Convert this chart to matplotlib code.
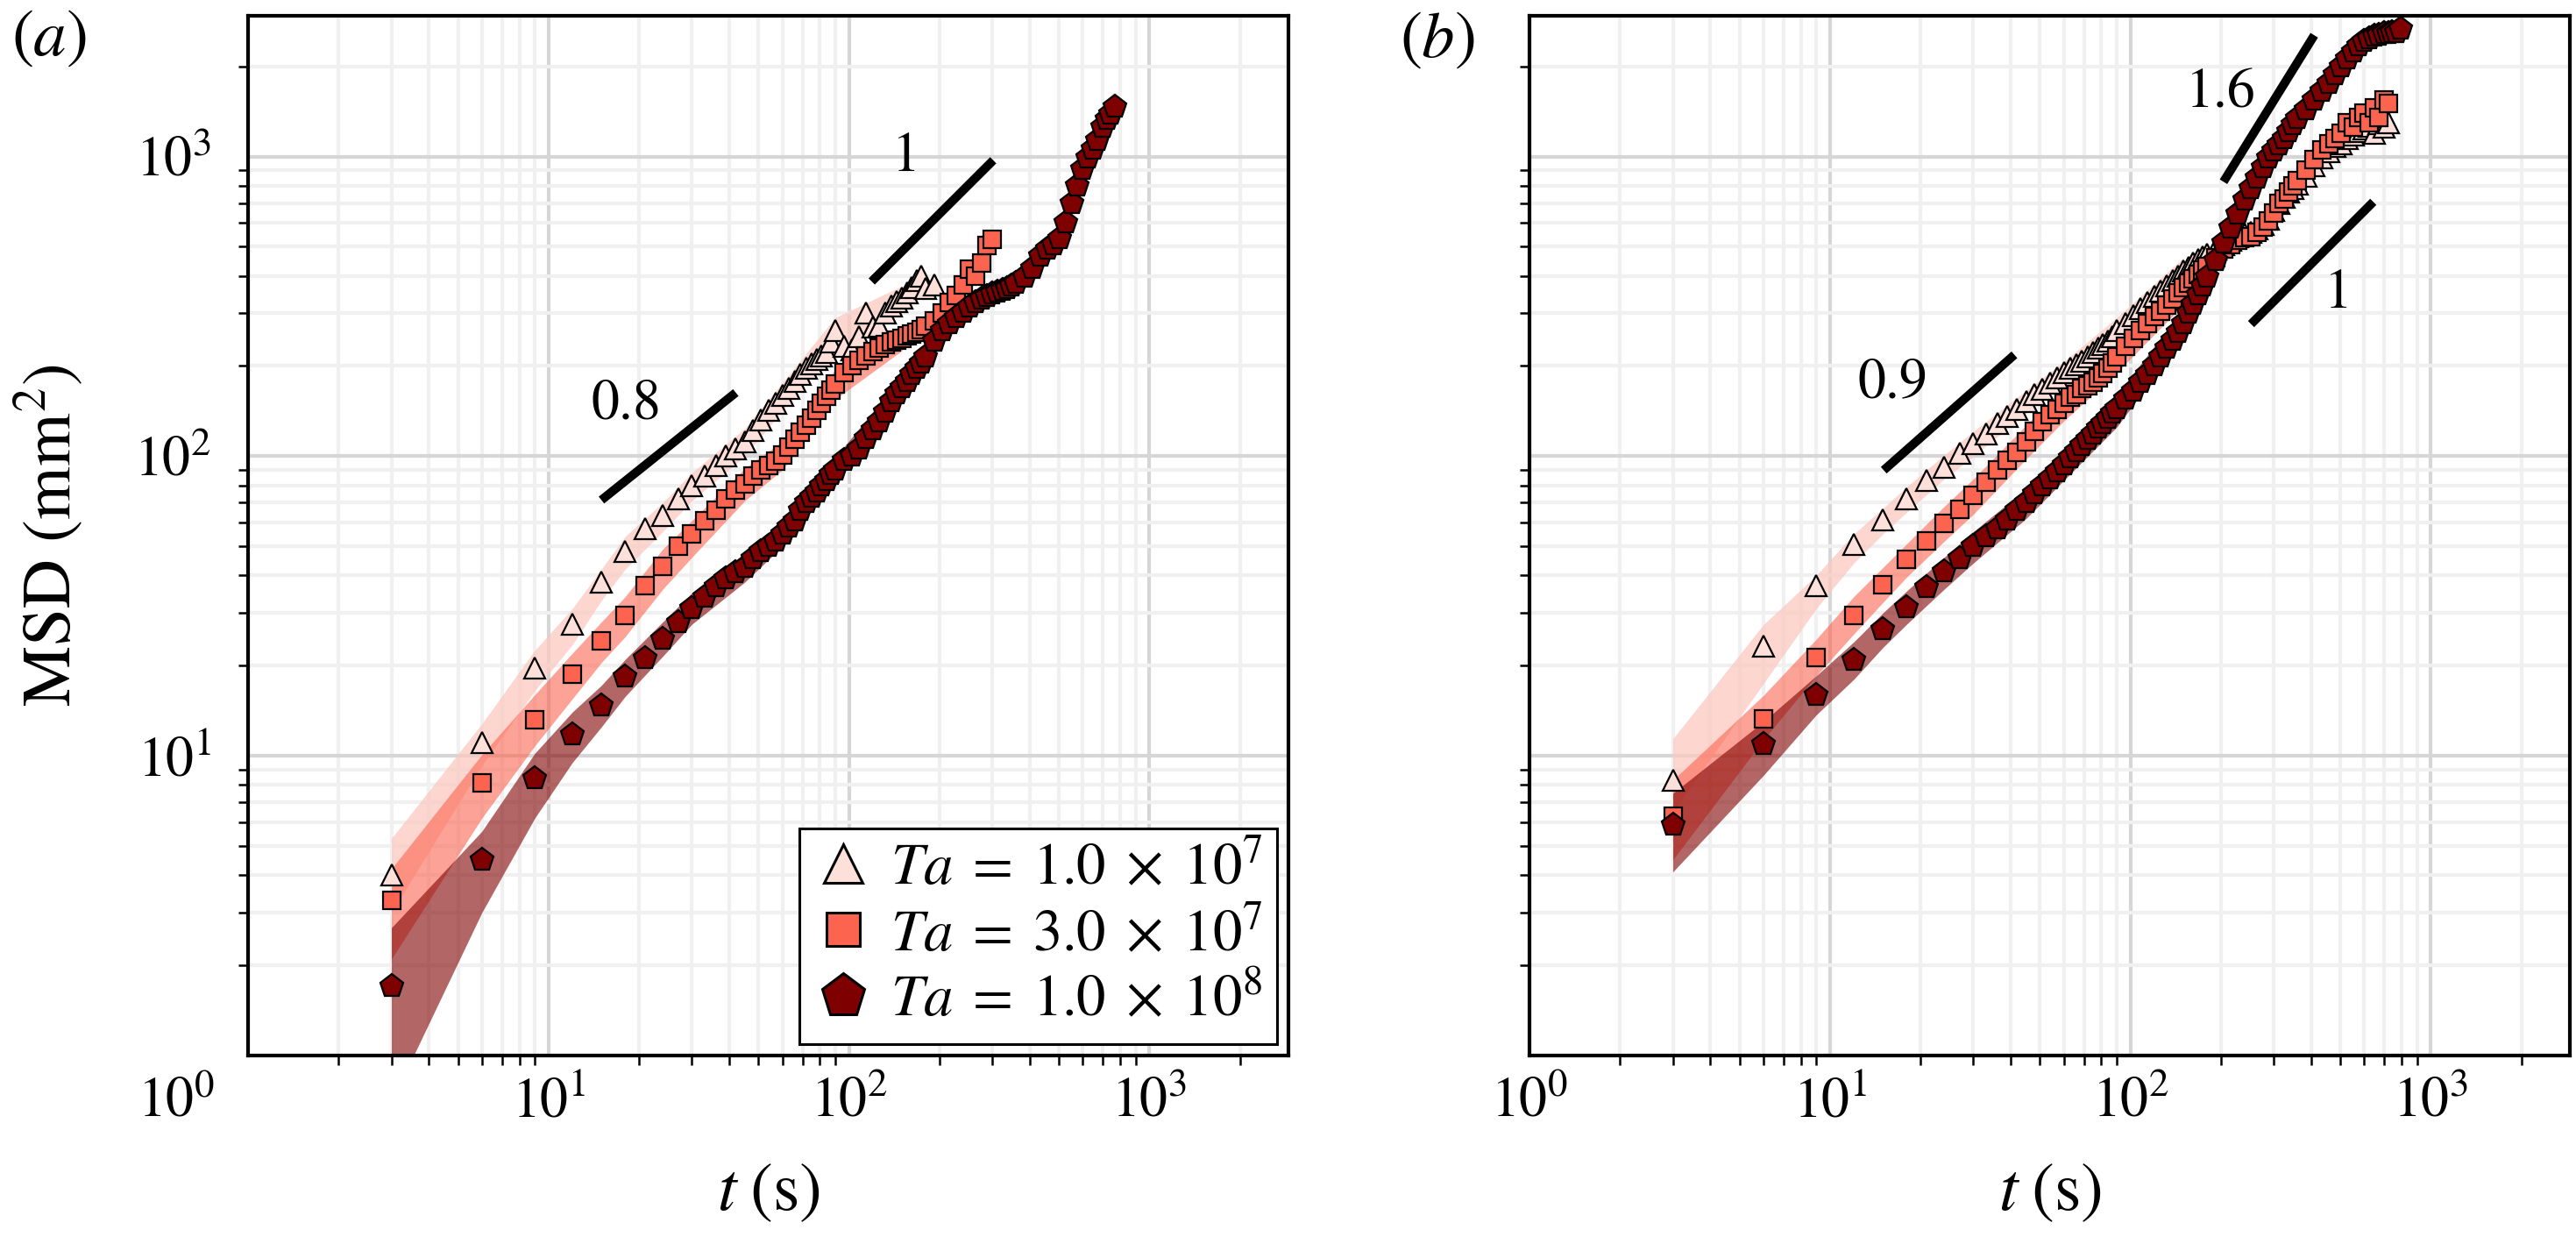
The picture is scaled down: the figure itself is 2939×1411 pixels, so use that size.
import matplotlib
matplotlib.use('Agg')
import matplotlib.pyplot as plt
from matplotlib.lines import Line2D
from matplotlib.ticker import NullFormatter

plt.rcParams['font.family'] = 'STIXGeneral'
plt.rcParams['mathtext.fontset'] = 'stix'

# lag times (s), shared by all series; each series uses the first len(values) entries
t_grid = [3, 6, 9, 12, 15, 18, 21, 24, 27, 30, 33, 36, 39, 42, 45, 48, 51, 54, 57, 60,
          63, 66, 69, 72, 75, 78, 81, 84, 87, 90,
          96, 102, 108, 114, 120, 126, 132, 138, 144, 150, 156, 162, 168, 174, 180,
          192, 204, 216, 228, 240, 252, 264, 276, 288, 300, 312, 324, 336, 348, 360,
          384, 408, 432, 456, 480, 504, 528, 552, 576, 600, 624, 648, 672, 696, 720,
          744, 768, 792]

labels = [r'$Ta\;=\;1.0\;\times\;10^{7}$', r'$Ta\;=\;3.0\;\times\;10^{7}$',
          r'$Ta\;=\;1.0\;\times\;10^{8}$']

# panel (a) MSD (mm^2)
msd_a_ta1 = [4.0, 11.1, 19.7, 27.5, 37.9, 48, 57.3, 63.4, 72, 80, 86, 93, 100, 106, 112,
             122, 132, 142, 150, 160, 168, 178, 188, 196, 204, 210, 216, 222, 240, 262,
             232, 226, 250, 300, 270, 272, 300, 318, 328, 338, 350, 365, 385, 398, 362,
             372]
msd_a_ta2 = [3.3, 8.1, 13.2, 18.7, 24.2, 29.5, 37, 43, 50, 55, 61, 66, 72, 77, 81,
             86, 90, 93, 96, 101, 107, 114, 120, 127, 134, 142, 150, 158, 166, 174,
             190, 200, 209, 216, 224, 230, 236, 240, 244, 248, 252, 256, 259, 265, 272,
             282, 300, 325, 345, 372, 420, 400, 440, 505, 530]
msd_a_ta3 = [1.7, 4.5, 8.4, 11.8, 14.7, 18.3, 21.2, 24.6, 27.8, 31.1, 34, 36.8, 39, 40.8, 42.5,
             45.5, 48, 50, 52, 55, 58, 61, 66, 70, 73, 76, 80, 83, 87, 90,
             97, 100, 106, 115, 123, 130, 140, 152, 162, 170, 178, 187, 196, 205, 215,
             243, 262, 278, 290, 302, 315, 325, 335, 342, 348, 353, 358, 362, 370, 378,
             397, 425, 465, 490, 510, 533, 600, 700, 800, 910, 990, 1060, 1130, 1250, 1330,
             1390, 1460]

# panel (b) MSD (mm^2)
msd_b_ta1 = [8.3, 23.2, 37, 50.7, 61.3, 72, 83, 92, 102, 110, 119, 129, 136, 143, 152,
             161, 167, 175, 182, 190, 196, 202, 207, 215, 222, 230, 236, 243, 250, 262,
             278, 295, 310, 326, 342, 356, 370, 385, 400, 415, 428, 440, 452, 462, 472,
             492, 510, 525, 540, 550, 560, 575, 592, 620, 660, 700, 730, 760, 785, 810,
             860, 930, 990, 1040, 1080, 1100, 1150, 1180, 1210, 1240, 1260, 1200, 1290, 1250, 1300]
msd_b_ta2 = [6.3, 13.3, 21.3, 29.5, 37.3, 45.2, 52.2, 59.8, 66.4, 73.9, 81.9, 89.8, 96.7, 103, 112,
             121, 130, 138, 143, 150, 157, 161, 168, 172, 177, 182, 189, 196, 205, 215,
             232, 248, 262, 278, 292, 305, 320, 335, 350, 365, 378, 392, 405, 418, 430,
             460, 490, 510, 525, 535, 540, 560, 580, 610, 650, 700, 720, 760, 800, 830,
             900, 980, 1050, 1100, 1150, 1200, 1300, 1250, 1350, 1400, 1300, 1450, 1350, 1550, 1500]
msd_b_ta3 = [5.9, 10.9, 15.9, 20.9, 26.4, 31.3, 36.4, 41.1, 45.6, 50, 53.8, 57.5, 61.5, 66, 70,
             75, 80, 84, 89, 94, 99, 104, 109, 114, 119, 124, 129, 134, 139, 144,
             155, 165, 176, 188, 200, 214, 229, 244, 260, 278, 300, 322, 346, 370, 395,
             450, 515, 576, 645, 715, 784, 850, 920, 990, 1045, 1094, 1150, 1215, 1280, 1340,
             1430, 1540, 1650, 1760, 1880, 2000, 2120, 2240, 2350, 2430, 2480, 2520, 2550, 2570, 2580,
             2590, 2600, 2660]

# spread bands (lower, upper), sampled on band_t
band_t = [3, 6, 9, 12, 15, 18, 24, 30, 45, 60, 90, 150]
band_a_ta1_lo = [3.0, 9.3, 16.5, 23.5, 33, 42, 56, 71, 100, 142, 230, 300]
band_a_ta1_hi = [5.3, 12.8, 22.5, 31, 42, 54, 70, 88, 124, 176, 290, 370]
band_a_ta2_lo = [2.1, 6.2, 10.8, 15.5, 20.5, 25, 36, 46, 71, 90, 155, 225]
band_a_ta2_hi = [4.2, 10.1, 16, 22, 28, 34, 49, 61, 91, 112, 195, 272]
band_a_ta3_lo = [0.7, 3.0, 6.2, 9.5, 12.5, 15.8, 21.5, 27.5, 38, 50, 82, 155]
band_a_ta3_hi = [2.67, 5.6, 10.2, 14, 17.2, 21, 28, 35, 47, 61, 99, 185]
band_b_ta1_lo = [6.5, 17.4, 31, 44, 55, 65, 84, 100, 139, 173, 240, 380]
band_b_ta1_hi = [11.4, 27.4, 40, 55, 67, 79, 101, 121, 166, 207, 290, 460]
band_b_ta2_lo = [4.5, 11.3, 18.5, 25.5, 32.5, 39.5, 52, 64, 98, 131, 190, 320]
band_b_ta2_hi = [8.3, 15.9, 24.5, 34, 42.5, 51, 68, 84, 127, 170, 250, 410]
band_b_ta3_lo = [4.1, 8.6, 13.7, 18, 23, 27.5, 36, 44, 62, 83, 125, 250]
band_b_ta3_hi = [7.5, 13, 18.5, 24, 30, 35.5, 46, 56, 78, 105, 160, 310]

# reference slopes: (t ends, msd ends, label, label t, label msd)
slopes_a = [([15, 42], [71.4, 163], '0.8', 18.1, 148),
            ([119, 302], [383, 972], '1', 155, 990)]
slopes_b = [([15.1, 41.1], [89.8, 218], '0.9', 16.2, 174),
            ([204, 409], [824, 2540], '1.6', 200, 1614),
            ([252, 643], [276, 706], '1', 491, 348)]

colors = ['#fee0db', '#fd6450', '#7f0000']
band_colors = ['#fbc9c0', '#fd6450', '#7f0000']
band_alpha = [0.75, 0.6, 0.6]
markers = ['^', 's', 'p']
msizes = [8.5, 7.3, 10]


def draw_panel(ax, series, bands, slopes):
    for i, (lo, hi) in enumerate(bands):
        n = len(lo)
        ax.fill_between(band_t[:n], lo, hi, color=band_colors[i], alpha=band_alpha[i],
                        lw=0, zorder=1)
    for i, vals in enumerate(series):
        ax.plot(t_grid[:len(vals)], vals, ls='none', marker=markers[i], ms=msizes[i],
                mfc=colors[i], mec='k', mew=0.8, zorder=3 + i)
    for xs, ys, txt, tx, ty in slopes:
        ax.plot(xs, ys, color='k', lw=3.6, solid_capstyle='butt', zorder=7)
        ax.text(tx, ty, txt, fontsize=23, ha='center', va='center', zorder=8)

    ax.set_xscale('log')
    ax.set_yscale('log')
    ax.set_xlim(1, 2900)
    ax.set_ylim(1, 2950)
    ax.set_axisbelow(True)
    ax.grid(which='major', color='#d6d6d6', lw=1.5)
    ax.grid(which='minor', color='#f0f0f0', lw=1.5)
    ax.xaxis.set_minor_formatter(NullFormatter())
    ax.yaxis.set_minor_formatter(NullFormatter())
    ax.tick_params(which='major', length=0, labelsize=23)
    ax.tick_params(axis='x', which='major', pad=9)
    ax.tick_params(axis='y', which='major', pad=15)
    ax.tick_params(which='minor', length=4, width=0.9, direction='out')
    for sp in ax.spines.values():
        sp.set_linewidth(1.5)
    ax.set_xlabel(r'$t\;$(s)', fontsize=28, labelpad=14)


fig = plt.figure(figsize=(14.695, 7.055), dpi=200)
ax1 = fig.add_axes([0.09629, 0.14671, 0.40388, 0.84054])
ax2 = fig.add_axes([0.59374, 0.14671, 0.40388, 0.84054])

draw_panel(ax1, [msd_a_ta1, msd_a_ta2, msd_a_ta3],
           [(band_a_ta1_lo, band_a_ta1_hi), (band_a_ta2_lo, band_a_ta2_hi),
            (band_a_ta3_lo, band_a_ta3_hi)], slopes_a)
draw_panel(ax2, [msd_b_ta1, msd_b_ta2, msd_b_ta3],
           [(band_b_ta1_lo, band_b_ta1_hi), (band_b_ta2_lo, band_b_ta2_hi),
            (band_b_ta3_lo, band_b_ta3_hi)], slopes_b)

ax1.set_xticks([10, 100, 1000])
ax1.set_yticks([10, 100, 1000])
ax1.annotate(r'$10^{0}$', xy=(1, 0), xycoords=('data', 'axes fraction'),
             xytext=(-29.5, -9), textcoords='offset points', ha='center', va='top',
             fontsize=23, annotation_clip=False)
ax1.set_ylabel(r'MSD (mm$^2$)', fontsize=28, labelpad=20)
ax2.set_xticks([1, 10, 100, 1000])
ax2.set_yticks([10, 100, 1000])
ax2.set_yticklabels([])

handles = [Line2D([], [], ls='none', marker=markers[i], ms=msizes[i] * 1.85,
                  mfc=colors[i], mec='k', mew=1.1) for i in range(3)]
leg = ax1.legend(handles, labels, loc='lower right', fontsize=24, fancybox=False,
                 framealpha=1, edgecolor='k', borderaxespad=0.2, borderpad=0.25,
                 handlelength=1.0, handletextpad=0.3, labelspacing=0.2)
leg.get_frame().set_linewidth(1.1)
leg.set_zorder(10)

fig.text(0.0191, 0.968, r'$(a)$', fontsize=27, ha='center', va='center')
fig.text(0.558, 0.967, r'$(b)$', fontsize=27, ha='center', va='center')

fig.savefig('out.png', dpi=200)
